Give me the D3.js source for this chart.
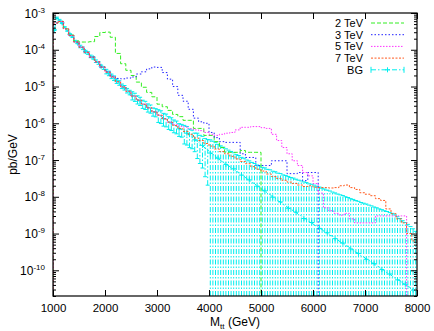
<!DOCTYPE html>
<html>
<head>
<meta charset="utf-8">
<script src="https://cdn.jsdelivr.net/npm/d3@7"></script>
<style>
body { margin: 0; background: #fff; }
text { font-family: "Liberation Sans", Arial, sans-serif; }
</style>
</head>
<body>
<div id="chart"></div>
<script>
// mass bins (GeV)
var sigStart = 1000, sigWidth = 100;
var bgStart = 1000, bgWidth = 50;
var pointEvery = 3; // BG marker interval, like gnuplot pointinterval

var xTicks = [1000, 2000, 3000, 4000, 5000, 6000, 7000, 8000];
var yTickExps = [-3, -4, -5, -6, -7, -8, -9, -10];
var names = ["2 TeV", "3 TeV", "5 TeV", "7 TeV", "BG"];

// signal + BG, log10(pb/GeV), one value per 100 GeV bin from 1000 GeV (null = empty)
var tev2 = [-3.27,-3.23,-3.43,-3.6,-3.76,-3.79,-3.79,-3.78,-3.64,-3.53,
            -3.52,-3.66,-4.1,-4.38,-4.56,-4.7,-4.88,-5.02,-5.16,-5.28,
            -5.48,-5.55,-5.65,-5.76,-5.82,-5.92,-5.92,-6.14,-6.14,-6.33,
            -6.33,-6.5,-6.66,-6.79,-6.79,-6.79,-6.74,-6.79,-6.79,-6.79,
            null,null,null,null,null,null,null,null,null,null,
            null,null,null,null,null,null,null,null,null,null,
            null,null,null,null,null,null,null,null,null,null];
var tev3 = [-3.27,-3.23,-3.43,-3.61,-3.79,-3.93,-4.07,-4.2,-4.33,-4.47,
            -4.6,-4.72,-4.78,-4.79,-4.77,-4.74,-4.66,-4.6,-4.52,-4.47,
            -4.48,-4.62,-4.8,-5.0,-5.24,-5.4,-5.62,-5.86,-5.96,-6.0,
            -6.25,-6.39,-6.5,-6.52,-6.52,-6.52,-6.83,-6.93,-6.93,-7.15,
            -7.15,-7.15,-7.02,-7.02,-7.02,-7.37,-7.37,-7.34,-7.56,-7.34,
            -7.34,null,null,null,null,null,null,null,null,null,
            null,null,null,null,null,null,null,null,null,null];
var tev5 = [-3.27,-3.23,-3.43,-3.61,-3.79,-3.93,-4.07,-4.2,-4.33,-4.47,
            -4.61,-4.74,-4.87,-5.01,-5.13,-5.26,-5.37,-5.48,-5.58,-5.69,
            -5.78,-5.88,-5.97,-6.04,-6.08,-6.1,-6.15,-6.18,-6.2,-6.25,
            -6.3,-6.33,-6.3,-6.27,-6.25,-6.18,-6.11,-6.11,-6.09,-6.09,
            -6.12,-6.14,-6.3,-6.47,-6.66,-6.83,-7.02,-7.15,-7.34,-7.43,
            -7.64,-7.9,-8.3,-8.38,-8.45,-8.5,-8.45,-8.6,-8.71,-8.71,
            -8.71,-8.71,-8.52,-8.52,-8.52,-8.52,-8.52,-8.52,null,null];
var tev7 = [-3.27,-3.23,-3.43,-3.61,-3.79,-3.93,-4.07,-4.2,-4.33,-4.47,
            -4.61,-4.74,-4.87,-5.01,-5.13,-5.26,-5.37,-5.48,-5.58,-5.69,
            -5.78,-5.88,-5.97,-6.06,-6.14,-6.22,-6.3,-6.4,-6.47,-6.55,
            -6.62,-6.7,-6.77,-6.83,-6.9,-6.97,-7.04,-7.1,-7.18,-7.25,
            -7.3,-7.38,-7.45,-7.5,-7.55,-7.6,-7.64,-7.68,-7.72,-7.7,
            -7.74,-7.75,-7.75,-7.76,-7.75,-7.7,-7.68,-7.75,-7.8,-7.89,
            -7.93,-7.97,-8.05,-8.1,-8.33,-8.46,-8.6,-8.71,-9.0,-9.2];

// background, log10(pb/GeV), 50 GeV bins from 1000 GeV, and log10 of its error
var bg = [-3.46,-3.13,-3.19,-3.27,-3.39,-3.48,-3.58,-3.65,-3.76,-3.82,
          -3.91,-3.96,-4.05,-4.09,-4.18,-4.22,-4.31,-4.36,-4.45,-4.5,
          -4.59,-4.64,-4.72,-4.77,-4.85,-4.9,-4.99,-5.03,-5.11,-5.16,
          -5.24,-5.28,-5.35,-5.39,-5.47,-5.5,-5.57,-5.6,-5.68,-5.7,
          -5.77,-5.8,-5.87,-5.89,-5.96,-5.99,-6.05,-6.08,-6.15,-6.17,
          -6.24,-6.27,-6.34,-6.37,-6.45,-6.49,-6.56,-6.6,-6.68,-6.72,
          -6.81,-6.84,-6.91,-6.95,-7.02,-7.05,-7.12,-7.15,-7.21,-7.24,
          -7.31,-7.34,-7.41,-7.44,-7.51,-7.54,-7.61,-7.64,-7.71,-7.74,
          -7.81,-7.84,-7.91,-7.94,-8.01,-8.04,-8.11,-8.14,-8.21,-8.24,
          -8.31,-8.33,-8.39,-8.42,-8.49,-8.52,-8.59,-8.61,-8.68,-8.7,
          -8.77,-8.8,-8.86,-8.89,-8.96,-8.98,-9.05,-9.07,-9.14,-9.17,
          -9.23,-9.26,-9.33,-9.35,-9.42,-9.45,-9.51,-9.54,-9.61,-9.63,
          -9.7,-9.72,-9.79,-9.82,-9.88,-9.91,-9.98,-10.0,-10.07,-10.1,
          -10.16,-10.19,-10.26,-10.28,-10.35,-10.38,-10.44,-10.47,-10.54,-10.57];
var bgErr = [-4.86,-4.53,-4.59,-4.67,-4.79,-4.88,-4.98,-5.05,-5.16,-5.22,
             -5.01,-5.06,-5.15,-5.19,-5.28,-5.32,-5.41,-5.46,-5.55,-5.6,
             -5.44,-5.49,-5.57,-5.62,-5.7,-5.75,-5.84,-5.88,-5.96,-6.01,
             -5.84,-5.88,-5.95,-5.99,-6.07,-6.1,-6.17,-6.2,-6.28,-6.3,
             -6.19,-6.22,-6.29,-6.31,-6.38,-6.41,-6.47,-6.5,-6.57,-6.59,
             -6.52,-6.55,-6.62,-6.65,-6.73,-6.67,-6.71,-6.72,-6.76,-6.77,
             -6.7,-6.74,-6.76,-6.81,-6.83,-6.87,-6.9,-6.94,-6.96,-7.0,
             -7.04,-7.06,-7.1,-7.12,-7.16,-7.18,-7.21,-7.24,-7.27,-7.29,
             -7.32,-7.33,-7.36,-7.37,-7.4,-7.41,-7.44,-7.45,-7.48,-7.49,
             -7.51,-7.54,-7.55,-7.58,-7.6,-7.62,-7.64,-7.66,-7.69,-7.7,
             -7.72,-7.75,-7.77,-7.8,-7.82,-7.85,-7.87,-7.9,-7.92,-7.95,
             -7.97,-7.99,-8.02,-8.04,-8.07,-8.09,-8.12,-8.14,-8.17,-8.19,
             -8.21,-8.24,-8.26,-8.29,-8.31,-8.34,-8.36,-8.39,-8.41,-8.44,
             -8.46,-8.5,-8.55,-8.6,-8.66,-8.71,-8.76,-8.82,-8.88,-8.95];

var colors = ["#33ee22", "#2222ff", "#ff33ff", "#ff5a1e", "#00eeee"];
var dashes = ["4,2", "1.5,2", "1.5,1.5", "2,1.5", "5,2,1.5,2"];

var margin = {top: 13, right: 17, bottom: 35, left: 53},
    width = 434 - margin.left - margin.right,
    height = 331 - margin.top - margin.bottom;

var svg = d3.select("#chart")
  .append("svg")
    .attr("width", width + margin.left + margin.right)
    .attr("height", height + margin.top + margin.bottom)
  .append("g")
    .attr("transform", "translate(" + margin.left + "," + margin.top + ")");

var x = d3.scaleLinear().domain([1000, 8000]).range([0, width]);
var y = d3.scaleLog().domain([2e-11, 1e-3]).range([height, 0]);
var floorVal = 2e-11;

svg.append("clipPath").attr("id", "plotclip")
  .append("rect").attr("width", width).attr("height", height);

var plot = svg.append("g").attr("clip-path", "url(#plotclip)");

// BG error bars, points and line
var bgPts = bg.map(function(v, i) {
  var val = Math.pow(10, v), err = Math.pow(10, bgErr[i]);
  return {i: i, m: bgStart + bgWidth * (i + 0.5), v: val, hi: val + err, lo: val - err > floorVal ? val - err : floorVal};
});

var bgG = plot.append("g")
  .attr("stroke", colors[4])
  .attr("fill", "none")
  .attr("stroke-width", 1);

bgG.selectAll(".eb")
  .data(bgPts)
  .enter().append("line")
    .attr("x1", function(d) { return x(d.m); })
    .attr("x2", function(d) { return x(d.m); })
    .attr("y1", function(d) { return y(d.lo); })
    .attr("y2", function(d) { return y(d.hi); })
    .attr("stroke-dasharray", "5,2,1.5,2");
bgG.selectAll(".cap-hi")
  .data(bgPts)
  .enter().append("line")
    .attr("x1", function(d) { return x(d.m) - 2; })
    .attr("x2", function(d) { return x(d.m) + 2; })
    .attr("y1", function(d) { return y(d.hi); })
    .attr("y2", function(d) { return y(d.hi); });
bgG.selectAll(".cap-lo")
  .data(bgPts.filter(function(d) { return d.lo > floorVal; }))
  .enter().append("line")
    .attr("x1", function(d) { return x(d.m) - 2; })
    .attr("x2", function(d) { return x(d.m) + 2; })
    .attr("y1", function(d) { return y(d.lo); })
    .attr("y2", function(d) { return y(d.lo); });

bgG.append("path")
  .datum(bgPts)
  .attr("stroke-dasharray", dashes[4])
  .attr("d", d3.line()
    .x(function(d) { return x(d.m); })
    .y(function(d) { return y(d.v); }));

bgG.selectAll(".pt")
  .data(bgPts.filter(function(d) { return d.i % pointEvery === 0; }))
  .enter().append("path")
    .attr("d", function(d) {
      var px = x(d.m), py = y(d.v);
      return "M" + (px - 2.5) + "," + py + "H" + (px + 2.5) + "M" + px + "," + (py - 2.5) + "V" + (py + 2.5);
    });

// signal histograms
var series = [tev2, tev3, tev5, tev7];
var stepLine = d3.line()
  .x(function(d) { return x(d[0]); })
  .y(function(d) { return y(d[1]); })
  .curve(d3.curveStepAfter);

series.forEach(function(s, k) {
  var pts = [[sigStart, floorVal]];
  var lastEdge = sigStart, lastVal = null;
  s.forEach(function(v, i) {
    if (v === null) return;
    lastVal = Math.pow(10, v);
    pts.push([sigStart + sigWidth * i, lastVal]);
    lastEdge = sigStart + sigWidth * (i + 1);
  });
  pts.push([lastEdge, lastVal]);
  if (lastEdge < 8000) pts.push([lastEdge, floorVal]);
  plot.append("path")
    .datum(pts)
    .attr("fill", "none")
    .attr("stroke", colors[k])
    .attr("stroke-width", 1)
    .attr("stroke-dasharray", dashes[k])
    .attr("d", stepLine);
});

// axes
var yMajor = yTickExps.map(function(e) { return Math.pow(10, e); });
var yMinor = [];
yTickExps.concat([-11]).forEach(function(e) {
  for (var m = 2; m <= 9; m++) {
    var v = m * Math.pow(10, e);
    if (v >= 2e-11 && v < 1e-3) yMinor.push(v);
  }
});

function styleAxis(g) {
  g.select(".domain").remove();
  g.selectAll("line").attr("stroke", "#000");
}

svg.append("g").call(d3.axisLeft(y).tickValues(yMinor).tickSize(-3).tickFormat("")).call(styleAxis);
svg.append("g").attr("transform", "translate(" + width + ",0)")
  .call(d3.axisRight(y).tickValues(yMinor).tickSize(-3).tickFormat("")).call(styleAxis);
svg.append("g").attr("transform", "translate(" + width + ",0)")
  .call(d3.axisRight(y).tickValues(yMajor).tickSize(-6).tickFormat("")).call(styleAxis);

var yAxis = svg.append("g")
  .call(d3.axisLeft(y).tickValues(yMajor).tickSize(-6).tickFormat(""))
  .call(styleAxis);
yAxis.selectAll(".tick").append("text")
  .attr("x", -8)
  .attr("y", 4)
  .attr("fill", "#000")
  .attr("text-anchor", "end")
  .style("font-size", "12px")
  .each(function(d, i) {
    var t = d3.select(this);
    t.append("tspan").text("10");
    t.append("tspan").attr("dy", -5).style("font-size", "8px").text(yTickExps[i]);
  });

svg.append("g")
  .attr("transform", "translate(0," + height + ")")
  .call(d3.axisBottom(x).tickValues(xTicks).tickSize(-6).tickPadding(8).tickFormat(d3.format("d")))
  .call(styleAxis)
  .selectAll("text")
    .attr("fill", "#000")
    .style("font-size", "11.5px");
svg.append("g")
  .call(d3.axisTop(x).tickValues(xTicks).tickSize(-6).tickFormat(""))
  .call(styleAxis);

svg.append("rect")
  .attr("width", width)
  .attr("height", height)
  .attr("fill", "none")
  .attr("stroke", "#000")
  .attr("stroke-width", 1.2);

// axis titles
var xt = svg.append("text")
  .attr("x", width / 2)
  .attr("y", height + 30)
  .attr("text-anchor", "middle")
  .style("font-size", "12px");
xt.append("tspan").text("M");
xt.append("tspan").attr("dy", 2.5).style("font-size", "8px").text("tt");
xt.append("tspan").attr("dy", -2.5).text(" (GeV)");

svg.append("text")
  .attr("transform", "translate(-36," + (height / 2) + ") rotate(-90)")
  .attr("text-anchor", "middle")
  .style("font-size", "12px")
  .text("pb/GeV");

// legend
var leg = svg.append("g").attr("transform", "translate(310,14)");
names.forEach(function(n, i) {
  var g = leg.append("g").attr("transform", "translate(0," + (i * 11.7) + ")");
  g.append("text")
    .attr("text-anchor", "end")
    .style("font-size", "11px")
    .text(n);
  g.append("line")
    .attr("x1", 8).attr("x2", 41)
    .attr("y1", -4).attr("y2", -4)
    .attr("stroke", colors[i])
    .attr("stroke-dasharray", dashes[i]);
  if (n === "BG") {
    g.append("path")
      .attr("d", "M8,-7V-1M41,-7V-1M22,-4H27M24.5,-6.5V-1.5")
      .attr("stroke", colors[i])
      .attr("fill", "none");
  }
});
</script>
</body>
</html>
